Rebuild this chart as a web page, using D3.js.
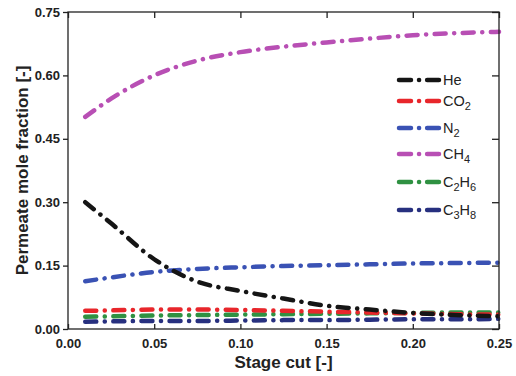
<!DOCTYPE html>
<html>
<head>
<meta charset="utf-8">
<script src="https://cdn.jsdelivr.net/npm/d3@7"></script>
<style>
  body { margin: 0; background: #fff; }
  text { font-family: "Liberation Sans", Arial, sans-serif; }
</style>
</head>
<body>
<div id="chart"></div>
<script>
// Stage cut values (x)
const stageCut = [0.01, 0.025, 0.05, 0.075, 0.1, 0.125, 0.15, 0.175, 0.2, 0.225, 0.25];

// Permeate mole fractions
const he   = [0.300, 0.250, 0.165, 0.112, 0.090, 0.072, 0.055, 0.046, 0.038, 0.033, 0.030];
const co2  = [0.043, 0.044, 0.046, 0.046, 0.045, 0.043, 0.041, 0.039, 0.037, 0.035, 0.034];
const n2   = [0.113, 0.122, 0.135, 0.142, 0.146, 0.149, 0.151, 0.153, 0.155, 0.156, 0.157];
const ch4  = [0.502, 0.545, 0.600, 0.635, 0.655, 0.668, 0.678, 0.687, 0.695, 0.700, 0.703];
const c2h6 = [0.029, 0.030, 0.032, 0.033, 0.034, 0.035, 0.036, 0.037, 0.038, 0.039, 0.039];
const c3h8 = [0.017, 0.018, 0.019, 0.019, 0.020, 0.021, 0.021, 0.022, 0.023, 0.023, 0.024];

// Legend labels: [main text, subscript, main, subscript...]
const seriesNames = [["He"], ["CO", "2"], ["N", "2"], ["CH", "4"], ["C", "2", "H", "6"], ["C", "3", "H", "8"]];
const seriesValues = [he, co2, n2, ch4, c2h6, c3h8];
const seriesColors = ["#151515", "#e8262b", "#3a52b4", "#b84fb4", "#2f9142", "#27307f"];

const xTicks = [0.00, 0.05, 0.10, 0.15, 0.20, 0.25];
const yTicks = [0.00, 0.15, 0.30, 0.45, 0.60, 0.75];

const width = 516, height = 376;
const margin = { top: 12, right: 17, bottom: 47, left: 68 };

const svg = d3.select("#chart").append("svg")
  .attr("width", width)
  .attr("height", height);

const x = d3.scaleLinear().domain([0, 0.25]).range([margin.left, width - margin.right]);
const y = d3.scaleLinear().domain([0, 0.75]).range([height - margin.bottom, margin.top]);

const fmt = d3.format(".2f");

// Data lines (draw in reverse so He ends up on top like the figure)
const line = d3.line()
  .x((d, i) => x(stageCut[i]))
  .y(d => y(d))
  .curve(d3.curveMonotoneX);

const order = [5, 4, 1, 2, 0, 3];
order.forEach(k => {
  svg.append("path")
    .datum(seriesValues[k])
    .attr("d", line)
    .attr("fill", "none")
    .attr("stroke", seriesColors[k])
    .attr("stroke-width", 4.5)
    .attr("stroke-linecap", "round")
    .attr("stroke-dasharray", "11,8.5,0.1,8.5");
});

// Frame
svg.append("rect")
  .attr("x", margin.left)
  .attr("y", margin.top)
  .attr("width", width - margin.left - margin.right)
  .attr("height", height - margin.top - margin.bottom)
  .attr("fill", "none")
  .attr("stroke", "#222")
  .attr("stroke-width", 1.3);

// Axes
const xAxis = svg.append("g")
  .attr("transform", `translate(0,${height - margin.bottom})`)
  .call(d3.axisBottom(x).tickValues(xTicks).tickFormat(fmt).tickSizeInner(-5).tickSizeOuter(0).tickPadding(10));
const yAxis = svg.append("g")
  .attr("transform", `translate(${margin.left},0)`)
  .call(d3.axisLeft(y).tickValues(yTicks).tickFormat(fmt).tickSizeInner(5).tickSizeOuter(0).tickPadding(3));
const xTop = svg.append("g")
  .attr("transform", `translate(0,${margin.top})`)
  .call(d3.axisTop(x).tickValues(xTicks).tickFormat("").tickSizeInner(-6).tickSizeOuter(0));
const yRight = svg.append("g")
  .attr("transform", `translate(${width - margin.right},0)`)
  .call(d3.axisRight(y).tickValues(yTicks).tickFormat("").tickSizeInner(-7).tickSizeOuter(0));

[xAxis, yAxis, xTop, yRight].forEach(g => {
  g.select(".domain").remove();
  g.selectAll(".tick line").attr("stroke", "#222").attr("stroke-width", 1.3);
  g.selectAll("text")
    .attr("fill", "#222")
    .style("font-family", "'Liberation Sans', Arial, sans-serif")
    .style("font-size", "13px")
    .style("font-weight", "bold");
});

// Axis titles
svg.append("text")
  .attr("x", (margin.left + width - margin.right) / 2)
  .attr("y", 368)
  .attr("text-anchor", "middle")
  .attr("font-size", "17px")
  .attr("font-weight", "bold")
  .attr("fill", "#222")
  .text("Stage cut [-]");

svg.append("text")
  .attr("transform", `translate(28,${(margin.top + height - margin.bottom) / 2}) rotate(-90)`)
  .attr("text-anchor", "middle")
  .attr("font-size", "17px")
  .attr("font-weight", "bold")
  .attr("fill", "#222")
  .text("Permeate mole fraction [-]");

// Legend
const legendY = [80, 101, 128, 154, 182, 210];
const legend = svg.append("g");
seriesNames.forEach((parts, i) => {
  const g = legend.append("g").attr("transform", `translate(0,${legendY[i]})`);
  g.append("line")
    .attr("x1", 399).attr("x2", 439)
    .attr("y1", 0).attr("y2", 0)
    .attr("stroke", seriesColors[i])
    .attr("stroke-width", 4.5)
    .attr("stroke-linecap", "round")
    .attr("stroke-dasharray", "12,8,0.1,8");
  const t = g.append("text")
    .attr("x", 443)
    .attr("y", 5)
    .attr("font-size", "14.5px")
    .attr("fill", "#222");
  parts.forEach((p, j) => {
    const sub = j % 2 === 1;
    t.append("tspan")
      .attr("dy", sub ? 4 : (j > 0 ? -4 : 0))
      .attr("font-size", sub ? "11px" : "14.5px")
      .text(p);
  });
});
</script>
</body>
</html>
